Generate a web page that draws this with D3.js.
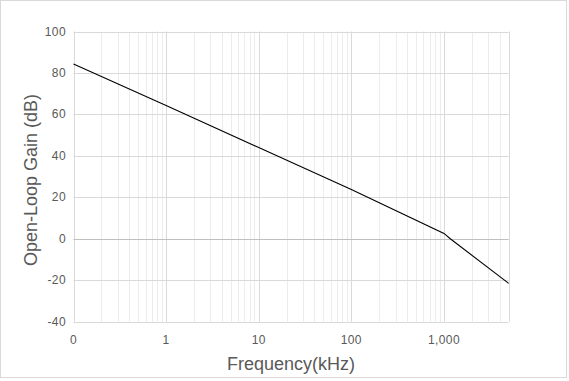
<!DOCTYPE html>
<html><head><meta charset="utf-8">
<script src="https://cdn.jsdelivr.net/npm/d3@7"></script>
<style>body{margin:0;background:#fff}svg{display:block}text{font-family:"Liberation Sans",Arial,sans-serif}</style>
</head><body><svg id="c" width="569" height="381"></svg>
<script>
const freqs = [0.1, 1, 10, 100, 1000, 1170, 5000];
const gains = [84.3, 64.3, 44, 23.8, 2.6, 0, -21.5];
const xTicks = [0.1, 1, 10, 100, 1000];
const xTickLabels = ["0", "1", "10", "100", "1,000"];
const yTicks = [-40, -20, 0, 20, 40, 60, 80, 100];

const svg = d3.select("#c");
const L = 73.5, R = 508.7, T = 31.5, B = 321.7;
const x = d3.scaleLog().domain([0.1, 5000]).range([L, R]);
const y = d3.scaleLinear().domain([-40, 100]).range([B, T]);

svg.append("rect").attr("x",0.5).attr("y",0.5).attr("width",566).attr("height",377)
  .attr("fill","#fff").attr("stroke","#d9d9d9");

const minor = [];
for (let e = -1; e <= 3; e++) for (let m = 2; m <= 9; m++) { const v = m*Math.pow(10,e); if (v < 5000) minor.push(v); }
svg.append("g").selectAll("line").data(minor).join("line")
  .attr("x1", d=>Math.round(x(d))+0.5).attr("x2", d=>Math.round(x(d))+0.5)
  .attr("y1", T).attr("y2", B).attr("stroke","#ececec");
svg.append("g").selectAll("line").data(xTicks.concat([5000])).join("line")
  .attr("x1", d=>Math.round(x(d))+0.5).attr("x2", d=>Math.round(x(d))+0.5)
  .attr("y1", T).attr("y2", B).attr("stroke","#d9d9d9");
svg.append("g").selectAll("line").data(yTicks).join("line")
  .attr("x1", L).attr("x2", R)
  .attr("y1", d=>Math.round(y(d))+0.5).attr("y2", d=>Math.round(y(d))+0.5)
  .attr("stroke", d=> d===0 ? "#bfbfbf" : "#d9d9d9");

svg.append("g").selectAll("text").data(yTicks).join("text")
  .attr("x", 66).attr("y", d=>y(d)+4).attr("text-anchor","end")
  .attr("font-size", 12).attr("letter-spacing", 0.4).attr("fill","#595959").text(d=>d);
svg.append("g").selectAll("text").data(xTicks).join("text")
  .attr("x", d=>x(d)).attr("y", 344).attr("text-anchor","middle")
  .attr("font-size", 12).attr("letter-spacing", 0.4).attr("fill","#595959").text((d,i)=>xTickLabels[i]);

const pts = freqs.map((f,i)=>[f,gains[i]]);
svg.append("path").datum(pts)
  .attr("d", d3.line().x(d=>x(d[0])).y(d=>y(d[1])))
  .attr("fill","none").attr("stroke","#000").attr("stroke-width",1.1);

svg.append("text").attr("x", 291).attr("y", 370).attr("text-anchor","middle")
  .attr("font-size", 18).attr("fill","#595959").text("Frequency(kHz)");
svg.append("text").attr("transform","translate(37,180) rotate(-90)").attr("text-anchor","middle")
  .attr("font-size", 18).attr("fill","#595959").text("Open-Loop Gain (dB)");
</script></body></html>
